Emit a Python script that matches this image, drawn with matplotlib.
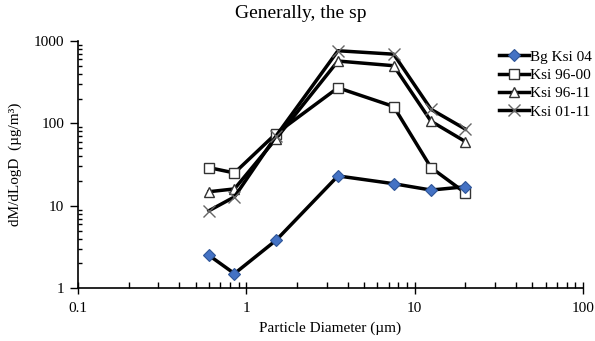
import matplotlib.pyplot as plt
from matplotlib.ticker import LogLocator, NullFormatter, FixedFormatter, FixedLocator

plt.rcParams['font.family'] = ['Liberation Serif', 'DejaVu Serif']

# particle diameters (um)
diam = [0.6, 0.85, 1.5, 3.5, 7.5, 12.5, 20]

bg_ksi_04 = [2.5, 1.5, 3.8, 23, 18.5, 15.5, 17]
ksi_96_00 = [29, 25, 75, 270, 160, 29, 14.3]
ksi_96_11 = [14.8, 16, 65, 570, 500, 106, 60]
ksi_01_11 = [8.7, 12.8, 70, 760, 690, 148, 85]

labels = ['Bg Ksi 04', 'Ksi 96-00', 'Ksi 96-11', 'Ksi 01-11']

fig = plt.figure(figsize=(5.95, 3.41), dpi=100)
ax = fig.add_axes([0.131, 0.155, 0.849, 0.725])

ax.plot(diam, bg_ksi_04, color='black', lw=2.5, marker='D', ms=6,
        mfc='#4472C4', mec='#2F5597', mew=0.8, label=labels[0], zorder=5)
ax.plot(diam, ksi_96_00, color='black', lw=2.5, marker='s', ms=7,
        mfc='white', mec='#333333', mew=1.0, label=labels[1])
ax.plot(diam, ksi_96_11, color='black', lw=2.5, marker='^', ms=7,
        mfc='white', mec='#333333', mew=1.0, label=labels[2])
ax.plot(diam, ksi_01_11, color='black', lw=2.5, marker='x', ms=8,
        mec='#666666', mew=1.0, label=labels[3])

ax.set_xscale('log')
ax.set_yscale('log')
ax.set_xlim(0.1, 100)
ax.set_ylim(1, 1000)

ax.xaxis.set_major_locator(FixedLocator([0.1, 1, 10, 100]))
ax.xaxis.set_major_formatter(FixedFormatter(['0.1', '1', '10', '100']))
ax.yaxis.set_major_locator(FixedLocator([1, 10, 100, 1000]))
ax.yaxis.set_major_formatter(FixedFormatter(['1', '10', '100', '1000']))
ax.xaxis.set_minor_locator(LogLocator(base=10, subs=range(2, 10)))
ax.yaxis.set_minor_locator(LogLocator(base=10, subs=range(2, 10)))
ax.xaxis.set_minor_formatter(NullFormatter())
ax.yaxis.set_minor_formatter(NullFormatter())

ax.tick_params(axis='x', which='major', direction='inout', length=8, width=1,
               labelsize=11, pad=6)
ax.tick_params(axis='x', which='minor', direction='in', length=4, width=1)
ax.tick_params(axis='y', which='major', direction='out', length=6, width=1,
               labelsize=11, pad=4)
ax.tick_params(axis='y', which='minor', direction='in', length=3, width=1)

for s in ['top', 'right']:
    ax.spines[s].set_visible(False)
for s in ['left', 'bottom']:
    ax.spines[s].set_linewidth(1.2)

ax.set_xlabel('Particle Diameter (\u00b5m)', fontsize=11, labelpad=5)
ax.set_ylabel('dM/dLogD  (\u00b5g/m\u00b3)', fontsize=11, labelpad=8)
fig.suptitle('Generally, the sp', fontsize=14, x=0.505, y=0.985)

ax.legend(loc='upper left', bbox_to_anchor=(0.815, 1.0), frameon=False,
          fontsize=11, handlelength=2.0, handletextpad=0.05,
          labelspacing=0.3, borderaxespad=0.2)

fig.savefig('out.png', dpi=100)
